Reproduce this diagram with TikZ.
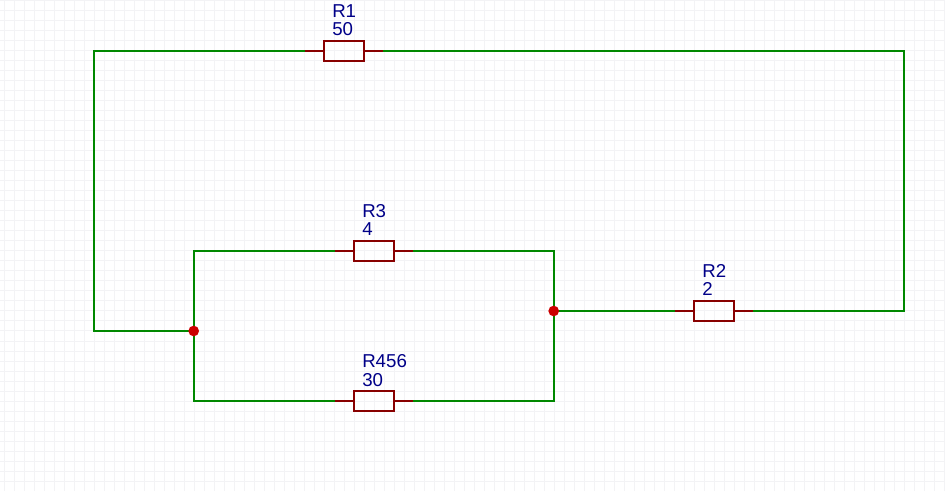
\documentclass[tikz,border=0pt]{standalone}
\usepackage{fontspec}
\setmainfont{Liberation Sans}
\definecolor{wiregreen}{HTML}{008800}
\definecolor{partred}{HTML}{880000}
\definecolor{labelblue}{HTML}{000088}
\definecolor{dotred}{HTML}{CC0000}
\definecolor{gridgrey}{HTML}{F3F3F5}
\tikzset{
  x=0.75pt,y=-0.75pt,
  wire/.style={draw=wiregreen,line width=1.5pt,line join=miter},
  lead/.style={draw=partred,line width=1.5pt},
  resistor/.style={draw=partred,line width=1.5pt,fill=none,rectangle,minimum width=30pt,minimum height=15pt,inner sep=0pt},
  partlabel/.style={text=labelblue,font=\fontsize{14pt}{14pt}\selectfont,anchor=base west,inner sep=0pt},
  junction/.style={circle,fill=dotred,minimum size=8pt,inner sep=0pt},
  gridline/.style={draw=gridgrey,line width=0.75pt}
}
\begin{document}
\begin{tikzpicture}
\useasboundingbox (0,0) rectangle (945,491);
\fill[white] (0,0) rectangle (945,491);
\foreach \gx in {4,14,...,944} \draw[gridline] (\gx,0) -- (\gx,491);
\foreach \gy in {1,11,...,491} \draw[gridline] (0,\gy) -- (945,\gy);
% resistors
\node[resistor] (r1) at (343.7,51) {};
\node[resistor] (r3) at (373.7,251) {};
\node[resistor] (r456) at (373.7,401) {};
\node[resistor] (r2) at (713.7,311) {};
% lead ends
\coordinate (r1l) at (304.5,51); \coordinate (r1r) at (383,51);
\coordinate (r3l) at (334.5,251); \coordinate (r3r) at (413,251);
\coordinate (r456l) at (334.5,401); \coordinate (r456r) at (413,401);
\coordinate (r2l) at (674.5,311); \coordinate (r2r) at (753,311);
% corners
\coordinate (tl) at (94,51); \coordinate (bl) at (94,331);
\coordinate (tr) at (904,51); \coordinate (br) at (904,311);
\coordinate (itl) at (194,251); \coordinate (ibl) at (194,401);
\coordinate (itr) at (554,251); \coordinate (ibr) at (554,401);
% wires
\draw[wire] (r1l) -- (tl) -- (bl) -- (194,331);
\draw[wire] (r1r) -- (tr) -- (br) -- (r2r);
\draw[wire] (r3l) -- (itl) -- (ibl) -- (r456l);
\draw[wire] (r3r) -- (itr) -- (ibr) -- (r456r);
\draw[wire] (554,311) -- (r2l);
% leads
\foreach \r in {r1,r3,r456,r2} {
  \draw[lead] (\r l) -- (\r.west);
  \draw[lead] (\r.east) -- (\r r);
}
% junctions
\node[junction] (j1) at (193.7,331) {};
\node[junction] (j2) at (553.7,311) {};
% labels
\node[partlabel] (lr1) at (332,18) {R1};
\node[partlabel] (lv1) at (332,36) {50};
\node[partlabel] (lr3) at (362,218) {R3};
\node[partlabel] (lv3) at (362,236) {4};
\node[partlabel] (lr456) at (362,368) {R456};
\node[partlabel] (lv456) at (362,386) {30};
\node[partlabel] (lr2) at (702,278) {R2};
\node[partlabel] (lv2) at (702,296) {2};
\end{tikzpicture}
\end{document}
